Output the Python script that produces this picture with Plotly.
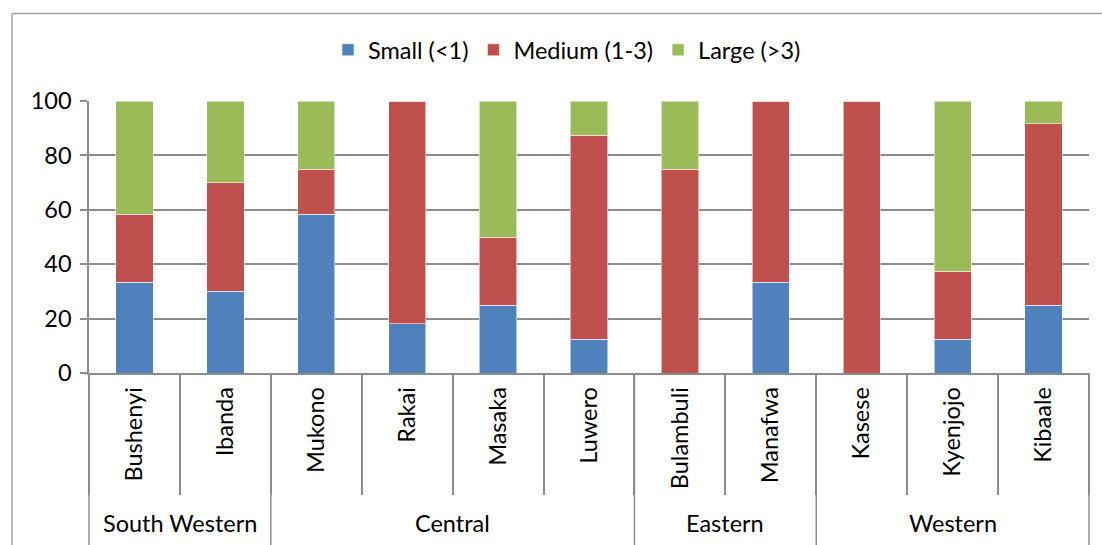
import plotly.graph_objects as go

# Farm size distribution (%) by district, grouped by region
regions = ["South Western", "South Western", "Central", "Central", "Central", "Central",
           "Eastern", "Eastern", "Western", "Western", "Western"]
districts = ["Bushenyi", "Ibanda", "Mukono", "Rakai", "Masaka", "Luwero",
             "Bulambuli", "Manafwa", "Kasese", "Kyenjojo", "Kibaale"]
small = [33.3, 30.0, 58.3, 18.2, 25.0, 12.5, 0.0, 33.3, 0.0, 12.5, 25.0]
medium = [25.0, 40.0, 16.7, 81.8, 25.0, 75.0, 75.0, 66.7, 100.0, 25.0, 66.7]
large = [41.7, 30.0, 25.0, 0.0, 50.0, 12.5, 25.0, 0.0, 0.0, 62.5, 8.3]

series = [
    ("Small (<1)", small, "#4F81BD"),
    ("Medium (1-3)", medium, "#C0504D"),
    ("Large (>3)", large, "#9BBB59"),
]

FONT = "Lato, Calibri, Arial, sans-serif"
FS = 23.5
GRID = "#8c8c8c"

W, H = 1102, 545
L, R, T, B = 89, 13, 101, 172
plot_h = H - T - B
plot_w = W - L - R

fig = go.Figure()
for name, vals, color in series:
    fig.add_trace(go.Bar(
        x=districts, y=vals, name=name,
        marker=dict(color=color, line=dict(color="rgba(255,255,255,0.55)", width=1)),
    ))

def py(px):
    """Pixel row -> paper y."""
    return (H - B - px) / plot_h

def px_x(px):
    """Pixel column -> paper x."""
    return (px - L) / plot_w

n = len(districts)
shapes = []

# Region dividers running through both label rows
bounds = [0] + [i for i in range(1, n) if regions[i] != regions[i - 1]] + [n]
for b in bounds:
    shapes.append(dict(type="line", xref="paper", yref="paper",
                       x0=b / n, x1=b / n, y0=0, y1=py(545),
                       line=dict(color=GRID, width=1.5)))

# Region names centred beneath their districts
annotations = []
for s, e in zip(bounds[:-1], bounds[1:]):
    annotations.append(dict(
        text=regions[s], xref="paper", yref="paper",
        x=(s + e) / 2 / n, y=py(523), xanchor="center", yanchor="middle",
        showarrow=False, font=dict(family=FONT, size=FS, color="#000000")))

# Chart frame
shapes.append(dict(type="line", xref="paper", yref="paper",
                   x0=px_x(12), x1=px_x(12), y0=py(560), y1=py(13.5),
                   line=dict(color="#a0a0a0", width=1.5)))
shapes.append(dict(type="line", xref="paper", yref="paper",
                   x0=px_x(12), x1=px_x(1110), y0=py(13.5), y1=py(13.5),
                   line=dict(color="#a0a0a0", width=1.5)))

fig.update_layout(
    width=W, height=H,
    margin=dict(l=L, r=R, t=T, b=B, pad=0),
    barmode="stack", bargap=0.59,
    plot_bgcolor="white", paper_bgcolor="white",
    font=dict(family=FONT, size=FS, color="#000000"),
    legend=dict(orientation="h", x=px_x(567), y=py(50), xanchor="center",
                yanchor="middle", traceorder="normal",
                font=dict(family=FONT, size=FS), itemwidth=30),
    shapes=shapes, annotations=annotations,
    xaxis=dict(
        type="category", tickson="boundaries", ticks="outside", ticklen=120,
        tickwidth=1.5, tickcolor=GRID, tickangle=-90, ticklabelstandoff=3,
        showline=True, linecolor=GRID, linewidth=1.5, showgrid=False,
        tickfont=dict(family=FONT, size=FS),
    ),
    yaxis=dict(
        range=[0, 100], dtick=20, ticks="outside", ticklen=7, tickwidth=1.5,
        tickcolor=GRID, showline=True, linecolor=GRID, linewidth=1.5,
        gridcolor=GRID, gridwidth=1.5, zeroline=False,
        tickfont=dict(family=FONT, size=FS), ticklabelstandoff=4,
    ),
)

fig.write_html("out.html")
